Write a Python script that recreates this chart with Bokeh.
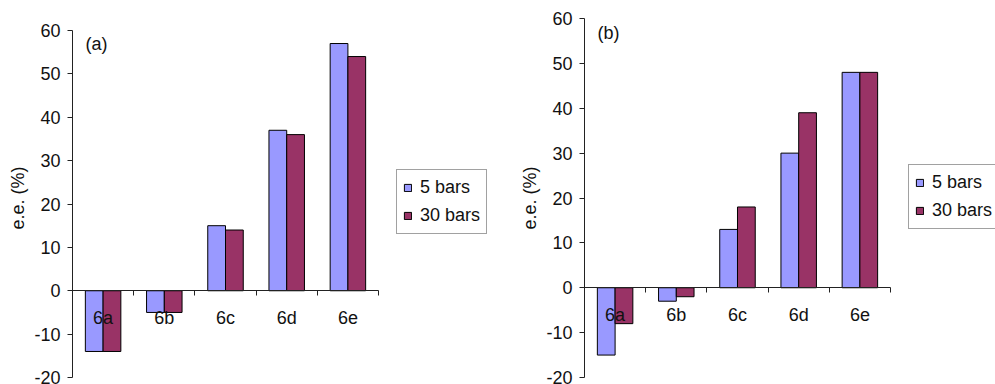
import numpy as np
from bokeh.plotting import figure
from bokeh.layouts import row
from bokeh.models import Range1d, FixedTicker, Label, CustomJSTickFormatter
from bokeh.embed import file_html
from bokeh.resources import INLINE

categories = ["6a", "6b", "6c", "6d", "6e"]
series_names = ["5 bars", "30 bars"]
a_5bars = [-14, -5, 15, 37, 57]
a_30bars = [-14, -5, 14, 36, 54]
b_5bars = [-15, -3, 13, 30, 48]
b_30bars = [-8, -2, 18, 39, 48]
y_ticks = [-20, -10, 0, 10, 20, 30, 40, 50, 60]

FONT = "Liberation Sans"
FS = "18px"
C1 = "#9999FF"
C2 = "#993366"
INK = "#111111"


def make_panel(tag, s1, s2, width, border_left, x_end, y_end, legend_loc, tag_loc):
    n = len(categories)
    p = figure(width=width, height=384, output_backend="svg", toolbar_location=None,
               x_range=Range1d(0, x_end), y_range=Range1d(-20, y_end),
               min_border_left=border_left, min_border_right=0,
               min_border_top=18, min_border_bottom=7)
    p.outline_line_color = None
    p.grid.visible = False

    xc = np.arange(n) + 0.5
    w = 0.29
    p.vbar(x=xc - w / 2, top=s1, bottom=0, width=w, fill_color=C1,
           line_color="black", line_width=1, legend_label=series_names[0])
    p.vbar(x=xc + w / 2, top=s2, bottom=0, width=w, fill_color=C2,
           line_color="black", line_width=1, legend_label=series_names[1])

    # x axis crossing at y = 0: category names at centres, ticks between categories
    xa = p.xaxis[0]
    xa.fixed_location = 0
    xa.bounds = (0, n)
    xa.ticker = FixedTicker(ticks=list(xc), minor_ticks=list(range(n + 1)))
    xa.formatter = CustomJSTickFormatter(args=dict(cats=categories),
                                         code="return cats[Math.floor(tick)];")
    xa.major_label_text_font = FONT
    xa.major_label_text_font_size = FS
    xa.major_label_text_color = INK
    xa.major_label_standoff = 12
    xa.major_tick_in = 0
    xa.major_tick_out = 0
    xa.minor_tick_out = 5
    xa.minor_tick_in = 0
    xa.axis_line_color = "#222222"
    xa.minor_tick_line_color = "#222222"

    ya = p.yaxis[0]
    ya.bounds = (-20, 60)
    ya.ticker = FixedTicker(ticks=y_ticks, minor_ticks=[])
    ya.formatter = CustomJSTickFormatter(code="return tick.toString();")
    ya.axis_label = "e.e. (%)"
    ya.axis_label_text_font = FONT
    ya.axis_label_text_font_style = "normal"
    ya.axis_label_text_font_size = FS
    ya.axis_label_text_color = INK
    ya.major_label_text_font = FONT
    ya.major_label_text_font_size = FS
    ya.major_label_text_color = INK
    ya.major_label_standoff = 7
    ya.major_tick_in = 0
    ya.major_tick_out = 5
    ya.minor_tick_out = 0
    ya.minor_tick_in = 0
    ya.axis_line_color = "#222222"
    ya.major_tick_line_color = "#222222"
    ya.axis_label_standoff = 3

    lg = p.legend[0]
    lg.location = legend_loc
    lg.border_line_color = "#444444"
    lg.border_line_width = 1
    lg.background_fill_alpha = 1
    lg.label_text_font = FONT
    lg.label_text_font_size = FS
    lg.label_text_color = INK
    lg.glyph_width = 9
    lg.glyph_height = 9
    lg.label_standoff = 8
    lg.padding = 6
    lg.spacing = 5
    lg.margin = 0
    lg.label_height = 23

    p.add_layout(Label(x=tag_loc[0], y=tag_loc[1], x_units="screen", y_units="screen",
                       text=tag, text_font=FONT, text_font_size=FS,
                       text_baseline="middle", text_color=INK))
    return p


pa = make_panel("(a)", a_5bars, a_30bars, 508, 72, 7.124, 62.77, (324, 143), (13, 334))
pb = make_panel("(b)", b_5bars, b_30bars, 487, 76, 6.716, 60, (324, 148), (13, 345))

layout = row(pa, pb)
open("out.html", "w").write(file_html(layout, INLINE))
